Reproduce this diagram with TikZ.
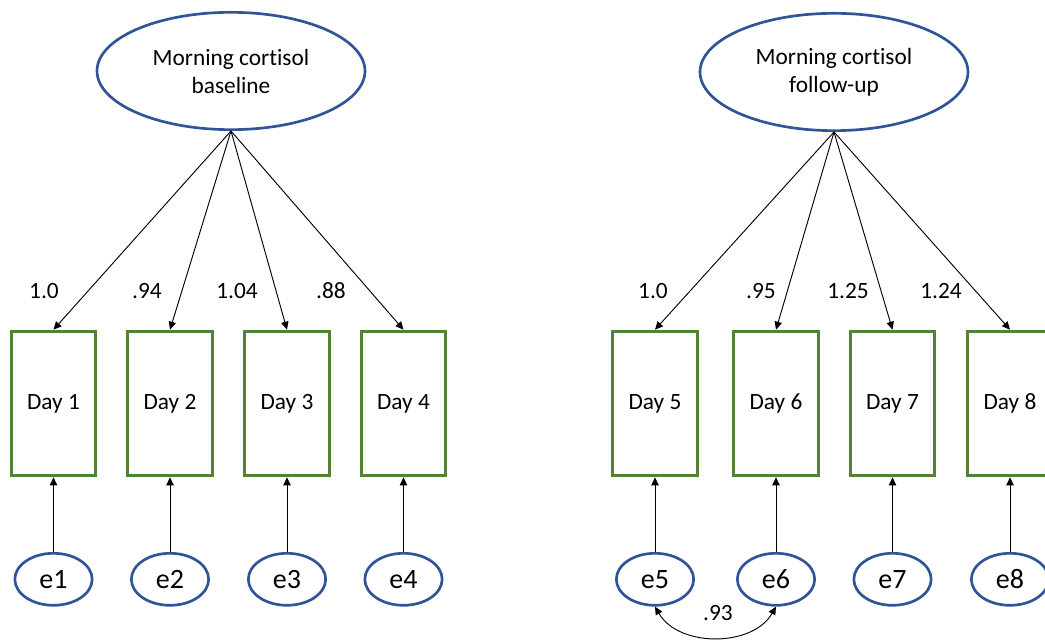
\documentclass[tikz,border=0pt]{standalone}
\usepackage{fontspec}
\setmainfont{Carlito}[Ligatures=NoCommon]
\usepackage{tikz}
\usetikzlibrary{shapes.geometric, arrows.meta, positioning}
\definecolor{latentblue}{RGB}{47,85,151}
\definecolor{boxgreen}{RGB}{84,130,53}

\begin{document}
\begin{tikzpicture}[
    x=0.75pt, y=0.75pt,
    latent/.style={ellipse, draw=latentblue, line width=2pt, minimum width=201pt, minimum height=88pt, inner sep=0pt, align=center, font=\fontsize{17.5}{21}\selectfont},
    day/.style={rectangle, draw=boxgreen, line width=2.2pt, minimum width=63.5pt, minimum height=108.5pt, font=\fontsize{17.5}{21}\selectfont},
    err/.style={ellipse, draw=latentblue, line width=2pt, minimum width=58pt, minimum height=39pt, inner sep=0pt, font=\fontsize{21}{25}\selectfont},
    coef/.style={font=\fontsize{17.5}{21}\selectfont},
    arr/.style={-{Triangle[length=6pt, width=5.5pt]}, line width=0.7pt},
    cov/.style={{Triangle[length=6pt, width=5.5pt]}-{Triangle[length=6pt, width=5.5pt]}, line width=0.7pt},
]
\useasboundingbox (0,0) rectangle (1045,642);

\node[latent] (base) at (231,571) {Morning cortisol\\baseline};
\node[latent] (follow) at (834,570) {Morning cortisol\\follow-up};

\node[day] (day1) at (53.5,238.5) {Day 1};
\node[day] (day2) at (170,238.5) {Day 2};
\node[day] (day3) at (287,238.5) {Day 3};
\node[day] (day4) at (403.5,238.5) {Day 4};
\node[day] (day5) at (655,238.5) {Day 5};
\node[day] (day6) at (776,238.5) {Day 6};
\node[day] (day7) at (892.5,238.5) {Day 7};
\node[day] (day8) at (1010,238.5) {Day 8};

\node[err, below=56pt of day1] (e1) {e1};
\node[err, below=56pt of day2] (e2) {e2};
\node[err, below=56pt of day3] (e3) {e3};
\node[err, below=56pt of day4] (e4) {e4};
\node[err, below=56pt of day5] (e5) {e5};
\node[err, below=56pt of day6] (e6) {e6};
\node[err, below=56pt of day7] (e7) {e7};
\node[err, below=56pt of day8] (e8) {e8};

\node[coef] (l1) at (44,351) {1.0};
\node[coef] (l2) at (147,351) {.94};
\node[coef] (l3) at (237,351) {1.04};
\node[coef] (l4) at (331,351) {.88};
\node[coef] (l5) at (653,351) {1.0};
\node[coef] (l6) at (761,351) {.95};
\node[coef] (l7) at (848,351) {1.25};
\node[coef] (l8) at (941,351) {1.24};

\draw[arr] (base.south) -- (day1.north);
\draw[arr] (base.south) -- (day2.north);
\draw[arr] (base.south) -- (day3.north);
\draw[arr] (base.south) -- (day4.north);
\draw[arr] (follow.south) -- (day5.north);
\draw[arr] (follow.south) -- (day6.north);
\draw[arr] (follow.south) -- (day7.north);
\draw[arr] (follow.south) -- (day8.north);

\draw[arr] (e1) -- (day1);
\draw[arr] (e2) -- (day2);
\draw[arr] (e3) -- (day3);
\draw[arr] (e4) -- (day4);
\draw[arr] (e5) -- (day5);
\draw[arr] (e6) -- (day6);
\draw[arr] (e7) -- (day7);
\draw[arr] (e8) -- (day8);

\draw[cov] (e5.south) to[out=-60, in=-120] (e6.south);
\node[coef] (c56) at (718,29) {.93};
\end{tikzpicture}
\end{document}
